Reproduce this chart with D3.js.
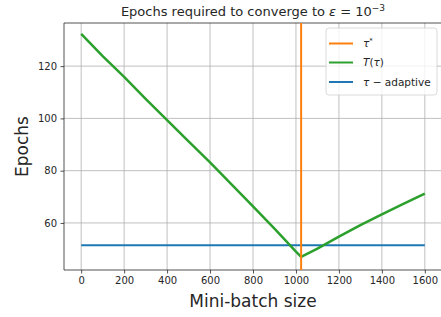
<!DOCTYPE html>
<html>
<head>
<meta charset="utf-8">
<script src="https://cdn.jsdelivr.net/npm/d3@7"></script>
<style>
  body { margin: 0; background: #fff; }
  svg { font-family: "DejaVu Sans", sans-serif; }
</style>
</head>
<body>
<svg id="chart"></svg>
<script>
// Data
var batchSizes = [0, 100, 200, 300, 400, 500, 600, 700, 800, 900, 1000, 1024, 1100, 1200, 1300, 1400, 1500, 1600];
var epochsT = [132.3, 123.8, 115.9, 107.5, 99.3, 91.2, 83.2, 74.8, 66.3, 57.8, 49.0, 47.0, 50.2, 54.8, 59.2, 63.3, 67.3, 71.2];
var tauStar = 1024;
var adaptiveRange = [0, 1600];
var adaptiveEpochs = 51.5;
var xTicks = [0, 200, 400, 600, 800, 1000, 1200, 1400, 1600];
var yTicks = [60, 80, 100, 120];

// Plot area (note: "top" is a reserved global, so use plot* names)
var svgW = 441, svgH = 317;
var plotL = 64, plotR = 442, plotT = 23, plotB = 270;

var svg = d3.select("#chart").attr("width", svgW).attr("height", svgH);

var x = d3.scaleLinear().domain([-80, 1680]).range([plotL, plotR]);
var y = d3.scaleLinear().domain([42.0, 136.5]).range([plotB, plotT]);

// grid
var grid = svg.append("g");
grid.selectAll(".gx").data(xTicks).enter().append("line")
    .attr("x1", function (d) { return x(d); }).attr("x2", function (d) { return x(d); })
    .attr("y1", plotT).attr("y2", plotB)
    .attr("stroke", "#b0b0b0").attr("stroke-width", 0.8);
grid.selectAll(".gy").data(yTicks).enter().append("line")
    .attr("x1", plotL).attr("x2", plotR)
    .attr("y1", function (d) { return y(d); }).attr("y2", function (d) { return y(d); })
    .attr("stroke", "#b0b0b0").attr("stroke-width", 0.8);

// axes
var xAxis = svg.append("g").attr("transform", "translate(0," + plotB + ")")
    .call(d3.axisBottom(x).tickValues(xTicks).tickSize(3.5).tickPadding(3.5).tickFormat(d3.format("d")));
var yAxis = svg.append("g").attr("transform", "translate(" + plotL + ",0)")
    .call(d3.axisLeft(y).tickValues(yTicks).tickSize(3.5).tickPadding(3.5).tickFormat(d3.format("d")));
[xAxis, yAxis].forEach(function (a) {
    a.select(".domain").remove();
    a.selectAll("text").attr("font-size", 10).attr("fill", "#262626").attr("font-family", "DejaVu Sans");
    a.selectAll("line").attr("stroke", "#262626").attr("stroke-width", 0.8);
});

// spines
svg.append("line").attr("x1", plotL).attr("x2", plotL).attr("y1", plotT).attr("y2", plotB)
    .attr("stroke", "#262626").attr("stroke-width", 0.8);
svg.append("line").attr("x1", plotL).attr("x2", plotR).attr("y1", plotB).attr("y2", plotB)
    .attr("stroke", "#262626").attr("stroke-width", 0.8);
svg.append("line").attr("x1", plotL).attr("x2", plotR).attr("y1", plotT).attr("y2", plotT)
    .attr("stroke", "#262626").attr("stroke-width", 0.8);

// series
var line = d3.line()
    .x(function (d, i) { return x(batchSizes[i]); })
    .y(function (d) { return y(d); });

svg.append("line")
    .attr("x1", x(adaptiveRange[0])).attr("x2", x(adaptiveRange[1]))
    .attr("y1", y(adaptiveEpochs)).attr("y2", y(adaptiveEpochs))
    .attr("stroke", "#1f77b4").attr("stroke-width", 2);

svg.append("path")
    .datum(epochsT)
    .attr("d", line)
    .attr("fill", "none")
    .attr("stroke", "#2ca02c")
    .attr("stroke-width", 2.5)
    .attr("stroke-linejoin", "round");

svg.append("line")
    .attr("x1", x(tauStar)).attr("x2", x(tauStar))
    .attr("y1", plotT).attr("y2", plotB)
    .attr("stroke", "#ff7f0e").attr("stroke-width", 2);

// title
var title = svg.append("text")
    .attr("x", (plotL + plotR) / 2).attr("y", 16)
    .attr("text-anchor", "middle").attr("font-size", 13).attr("fill", "#262626");
title.append("tspan").text("Epochs required to converge to ");
title.append("tspan").attr("font-style", "italic").text("ε");
title.append("tspan").text(" = 10");
title.append("tspan").attr("font-size", 9).attr("dy", -5).text("−3");

// axis labels
svg.append("text")
    .attr("x", (plotL + plotR) / 2 - 0).attr("y", 307)
    .attr("text-anchor", "middle").attr("font-size", 17).attr("fill", "#262626")
    .text("Mini-batch size");
svg.append("text")
    .attr("transform", "translate(28," + ((plotT + plotB) / 2) + ") rotate(-90)")
    .attr("text-anchor", "middle").attr("font-size", 17).attr("fill", "#262626")
    .text("Epochs");

// legend
var legend = svg.append("g");
legend.append("rect")
    .attr("x", 326).attr("y", 28).attr("width", 111).attr("height", 67)
    .attr("rx", 3).attr("fill", "#fff").attr("fill-opacity", 0.8)
    .attr("stroke", "#d0d0d0").attr("stroke-width", 0.8);

var legendItems = [
    { color: "#ff7f0e", y: 43.5 },
    { color: "#2ca02c", y: 62.5 },
    { color: "#1f77b4", y: 82 }
];
legend.selectAll(".lh").data(legendItems).enter().append("line")
    .attr("x1", 329).attr("x2", 353)
    .attr("y1", function (d) { return d.y; }).attr("y2", function (d) { return d.y; })
    .attr("stroke", function (d) { return d.color; }).attr("stroke-width", 2);

var t1 = legend.append("text").attr("x", 363).attr("y", 47).attr("font-size", 10.5).attr("fill", "#262626");
t1.append("tspan").attr("font-style", "italic").text("τ");
t1.append("tspan").attr("font-size", 7).attr("dy", -4).text("*");

var t2 = legend.append("text").attr("x", 363).attr("y", 66).attr("font-size", 10.5).attr("fill", "#262626");
t2.append("tspan").attr("font-style", "italic").text("T");
t2.append("tspan").text("(");
t2.append("tspan").attr("font-style", "italic").text("τ");
t2.append("tspan").text(")");

var t3 = legend.append("text").attr("x", 363).attr("y", 85.5).attr("font-size", 10.5).attr("fill", "#262626");
t3.append("tspan").attr("font-style", "italic").text("τ");
t3.append("tspan").text(" − adaptive");
</script>
</body>
</html>
